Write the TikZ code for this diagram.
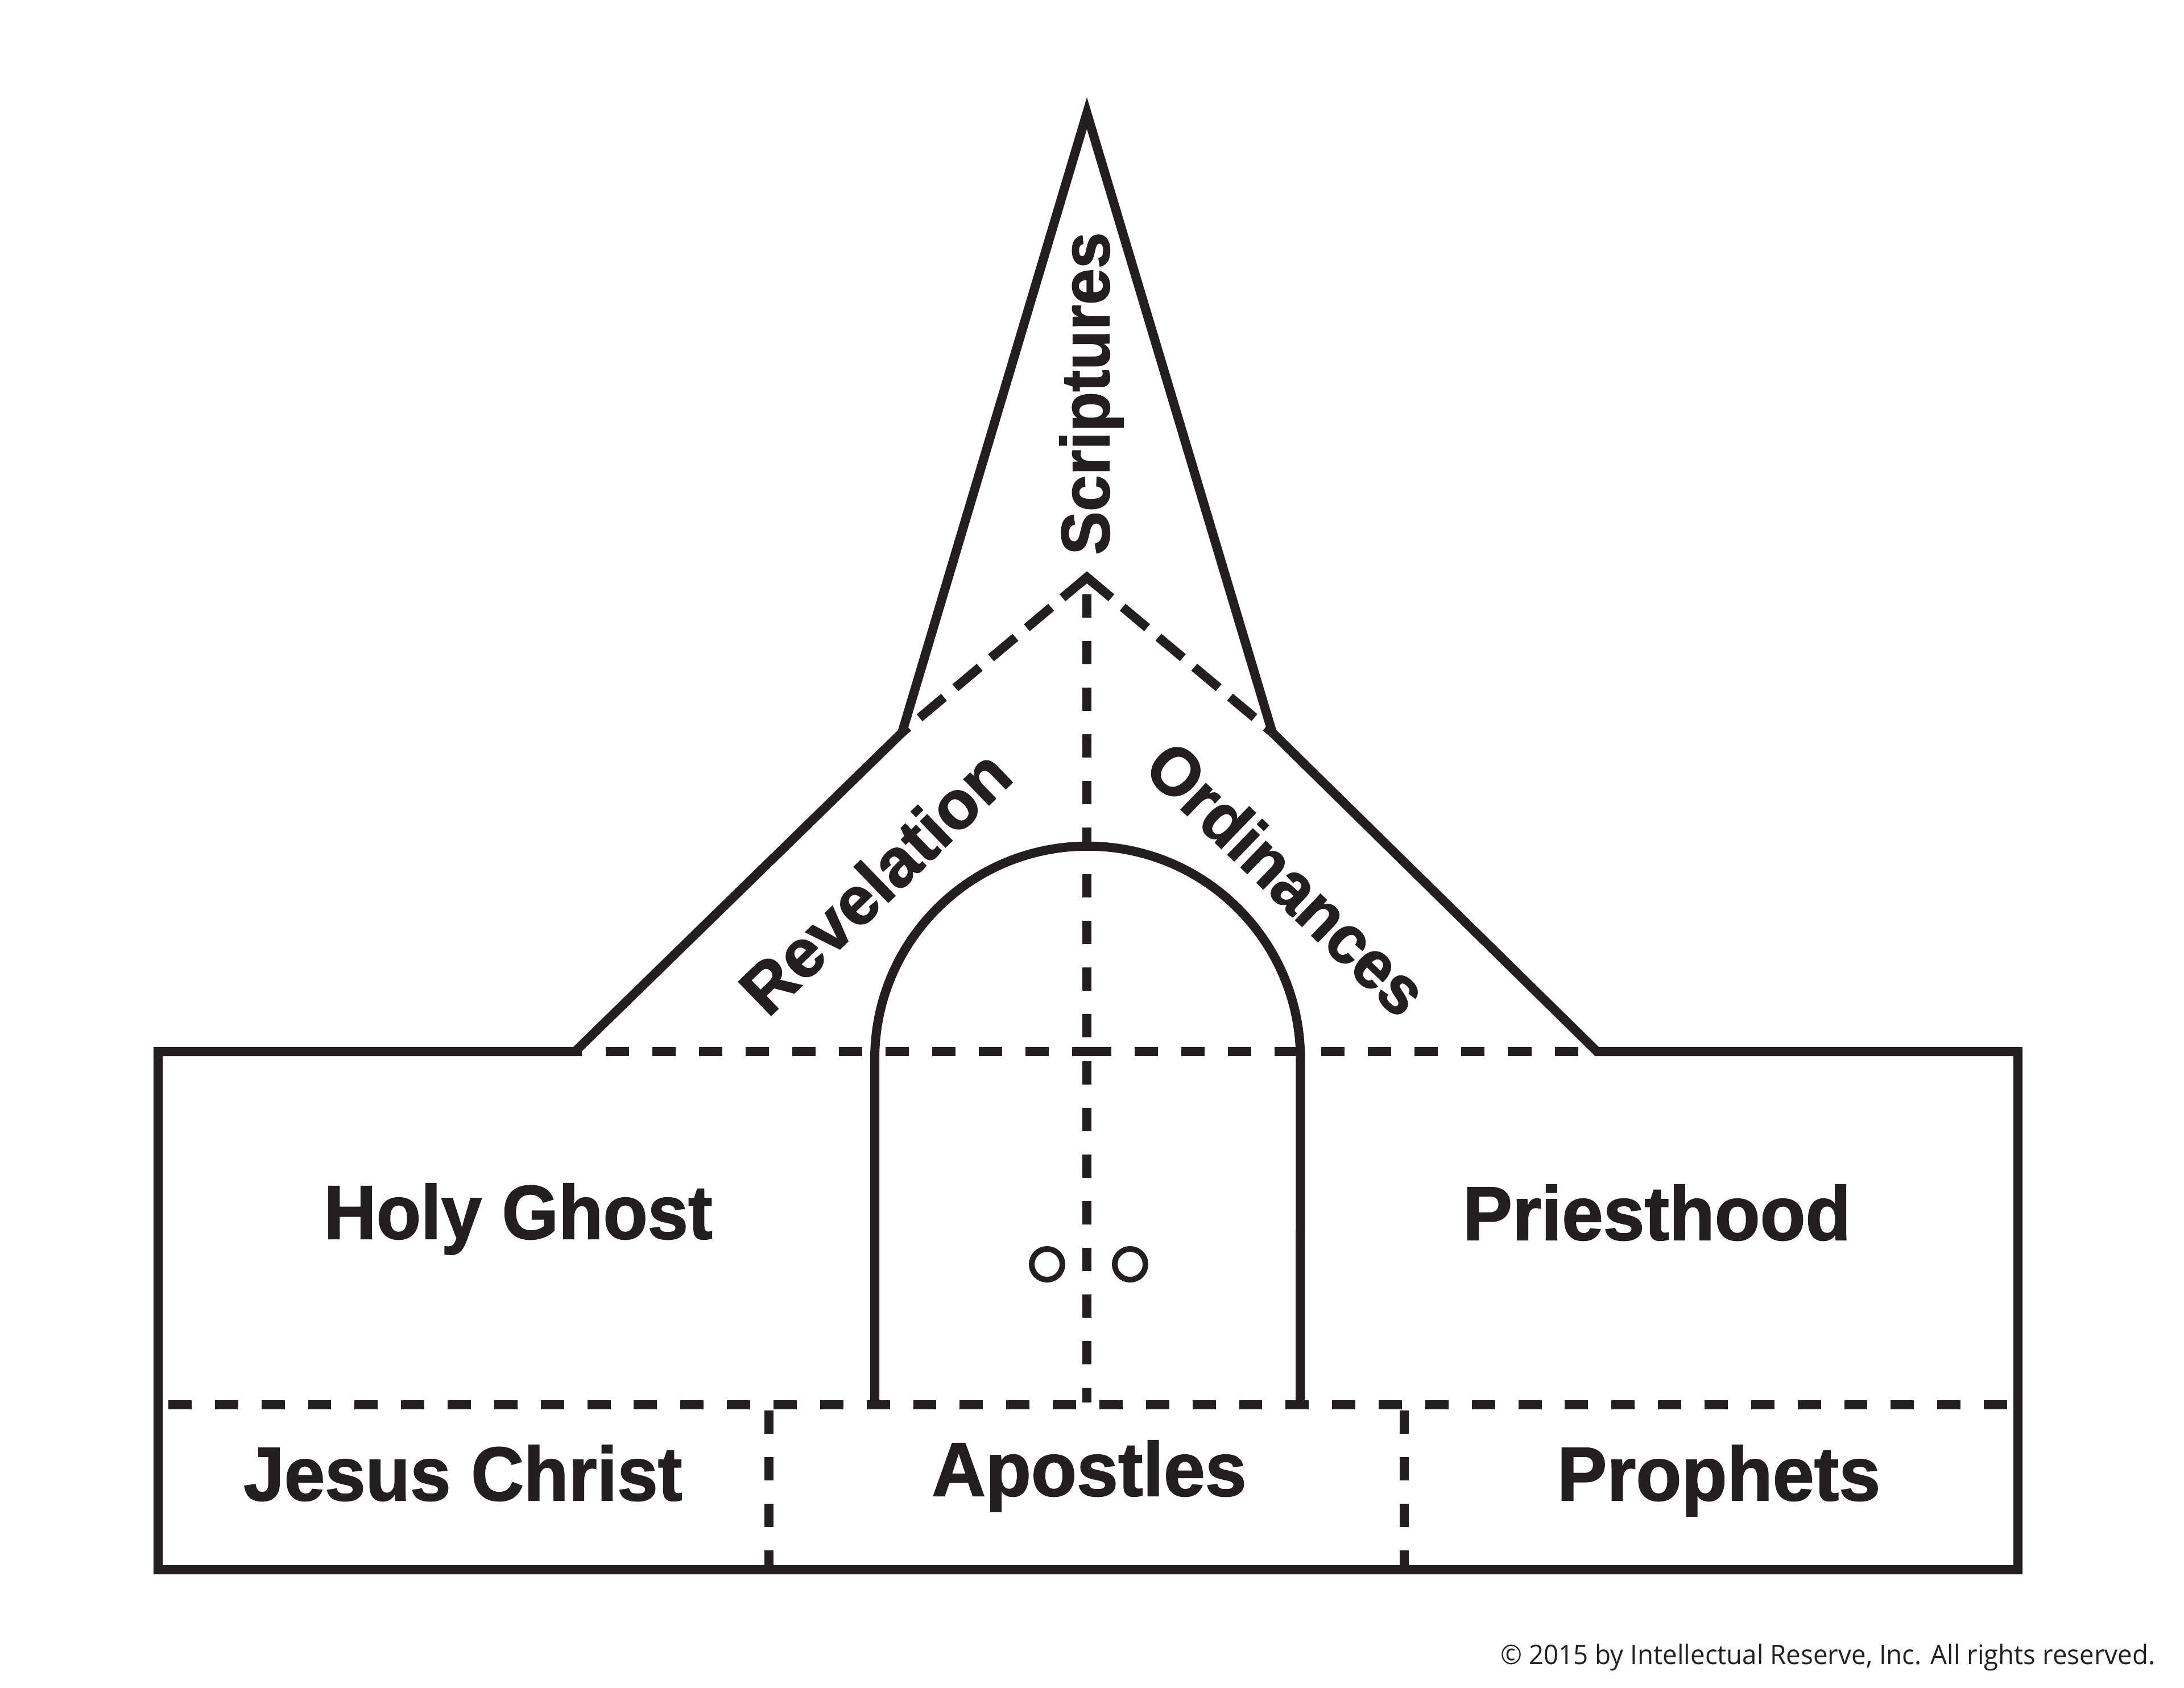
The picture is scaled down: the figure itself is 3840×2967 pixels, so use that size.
\documentclass[tikz,border=0pt]{standalone}
\usepackage{fontspec}
\setmainfont{Liberation Sans}
\newfontfamily\heavyfont{Liberation Sans}[BoldFeatures={FakeBold=1.5}]
\newfontfamily\osans{Open Sans}
\usepackage{graphicx}
\definecolor{ink}{HTML}{231F20}
\newsavebox\lbox
\newcommand\wfit[2]{\sbox\lbox{#2}\pgfmathsetmacro\wr{#1/\the\wd\lbox}\scalebox{\wr}[1]{\usebox\lbox}}
\begin{document}
\begin{tikzpicture}[x=0.01cm,y=-0.01cm,
  outline/.style={draw=ink, line width=0.16cm, line join=miter},
  dline/.style={draw=ink, line width=0.16cm, dash pattern=on 0.41cm off 0.41cm},
  rline/.style={draw=ink, line width=0.16cm, dash pattern=on 0.56cm off 0.26cm},
  knob/.style={draw=ink, line width=0.10cm},
  lab/.style={text=ink, inner sep=0pt, font=\heavyfont\bfseries\fontsize{38.1}{40}\selectfont},
  labr/.style={text=ink, inner sep=0pt, font=\heavyfont\bfseries\fontsize{34.1}{36}\selectfont}]
\useasboundingbox (0,0) rectangle (3840,2967);
\fill[white] (0,0) rectangle (3840,2967);
% key points
\coordinate (rl) at (1011,1849);
\coordinate (tl) at (278,1849);
\coordinate (bl) at (278,2760);
\coordinate (br) at (3548,2760);
\coordinate (tr) at (3548,1849);
\coordinate (rr) at (2808,1849);
\coordinate (jr) at (2237,1288);
\coordinate (ap) at (1911,199);
\coordinate (jl) at (1586,1288);
\coordinate (pk) at (1911,1015);
% outline
\draw[outline] (rl) -- (tl) -- (bl) -- (br) -- (tr) -- (rr) -- (jr) -- (ap) -- (jl) -- cycle;
% dashed roof line and central line
\draw[dline] (1926,1849) -- (rl);
\draw[dline] (1913,1849) -- (2790,1849);
\draw[dline] (1911,1045) -- (1911,2466);
\draw[rline] (pk) -- (jl);
\draw[rline] (pk) -- (jr);
\draw[outline] (1896,1028) -- (pk) -- (1926,1028);
% lower dashed lines
\draw[dline, dash pattern=on 0.409cm off 0.409cm] (296,2470) -- (3540,2470);
\draw[dline] (1352,2480) -- (1352,2755);
\draw[dline] (2469,2480) -- (2469,2755);
% door
\draw[outline] (1538,2466) -- (1538,1862) arc[start angle=180, end angle=0, radius=3.74cm] -- (2286,2466);
\draw[knob] (1841,2223) circle[radius=0.27cm];
\draw[knob] (1987,2223) circle[radius=0.27cm];
% labels
\node[lab, anchor=base] (hg) at (911,2178) {\wfit{6.83cm}{Holy Ghost}};
\node[lab, anchor=base] (ph) at (2913,2180) {\wfit{6.82cm}{Priesthood}};
\node[lab, anchor=base] (jc) at (814,2638) {\wfit{7.71cm}{Jesus Christ}};
\node[lab, anchor=base] (apo) at (1915,2630) {\wfit{5.53cm}{Apostles}};
\node[lab, anchor=base] (pr) at (3022,2638) {\wfit{5.68cm}{Prophets}};
\node[labr, rotate=90, anchor=base] (sc) at (1950,692) {\wfit{5.67cm}{Scriptures}};
\node[labr, rotate=44] (rv) at (1538,1550) {\wfit{6.05cm}{Revelation}};
\node[labr, rotate=-44] (od) at (2263,1544) {\wfit{6.3cm}{Ordinances}};
\node[anchor=base east, text=ink, inner sep=0pt, font=\osans\fontsize{13.5}{16}\selectfont] (cr) at (3790,2926) {\wfit{11.5cm}{© 2015 by Intellectual Reserve, Inc. All rights reserved.}};
\end{tikzpicture}
\end{document}
